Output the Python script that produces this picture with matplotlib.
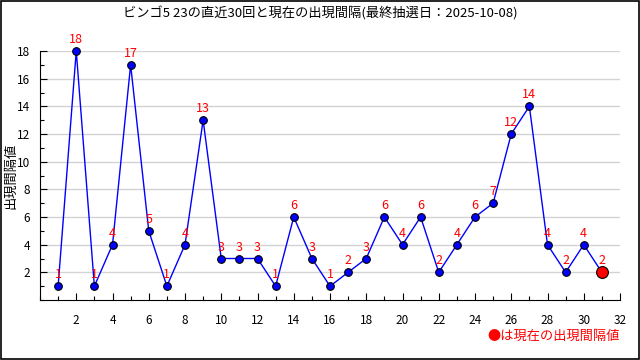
import numpy as np
import matplotlib.pyplot as plt
from matplotlib.ticker import MultipleLocator

plt.rcParams['font.family'] = ['Noto Sans CJK JP', 'DejaVu Sans']

title = 'ビンゴ5 23の直近30回と現在の出現間隔(最終抽選日：2025-10-08)'
draws = list(range(1, 32))
intervals = [1, 18, 1, 4, 17, 5, 1, 4, 13, 3, 3, 3, 1, 6, 3, 1, 2, 3, 6, 4,
             6, 2, 4, 6, 7, 12, 14, 4, 2, 4, 2]
ylabel = '出現間隔値'
note = '●は現在の出現間隔値'

fig = plt.figure(figsize=(6.4, 3.6), dpi=100)
ax = fig.add_axes([40 / 640, 60 / 360, 580 / 640, 249 / 360])

# frame around the whole image
fig.patches.append(plt.Rectangle((0.001, 0.002), 0.997, 0.995, transform=fig.transFigure,
                                 fill=False, edgecolor='black', linewidth=1.2))

ax.plot(draws, intervals, color='blue', linewidth=1, zorder=3, clip_on=False)
ax.plot(draws[:-1], intervals[:-1], 'o', color='blue', markeredgecolor='black',
        markersize=5.5, markeredgewidth=0.8, zorder=4, clip_on=False)
ax.plot(draws[-1:], intervals[-1:], 'o', color='red', markeredgecolor='black',
        markersize=8.5, markeredgewidth=0.8, zorder=5, clip_on=False)

for x, y in zip(draws, intervals):
    ax.text(x, y + 0.35, str(y), color='red', ha='center', va='bottom', fontsize=9)

ax.set_xlim(0, 32)
ax.set_ylim(0, 18)
ax.xaxis.set_minor_locator(MultipleLocator(1))
ax.yaxis.set_minor_locator(MultipleLocator(1))
ax.set_yticks(range(2, 19, 2))
ax.set_xticks(range(2, 33, 2))
ax.tick_params(which='both', direction='in', labelsize=8.5, width=0.8)
ax.tick_params(axis='x', which='major', length=5, pad=10)
ax.tick_params(axis='x', which='minor', length=3)
ax.tick_params(axis='y', which='major', length=5, pad=7)
ax.tick_params(axis='y', which='minor', length=3)

ax.grid(axis='y', color='#d3d3d3', linewidth=1)
ax.set_axisbelow(True)
for s in ['top', 'right']:
    ax.spines[s].set_visible(False)

fig.text(11 / 640, 1 - 176 / 360, ylabel, rotation=90, ha='center', va='center', fontsize=9.5)
fig.text(0.5, 0.962, title, ha='center', va='center', fontsize=9.5)
fig.text(620 / 640, 1 - 336 / 360, note, color='red', ha='right', va='center', fontsize=9.5)

fig.savefig('out.png', dpi=100)
